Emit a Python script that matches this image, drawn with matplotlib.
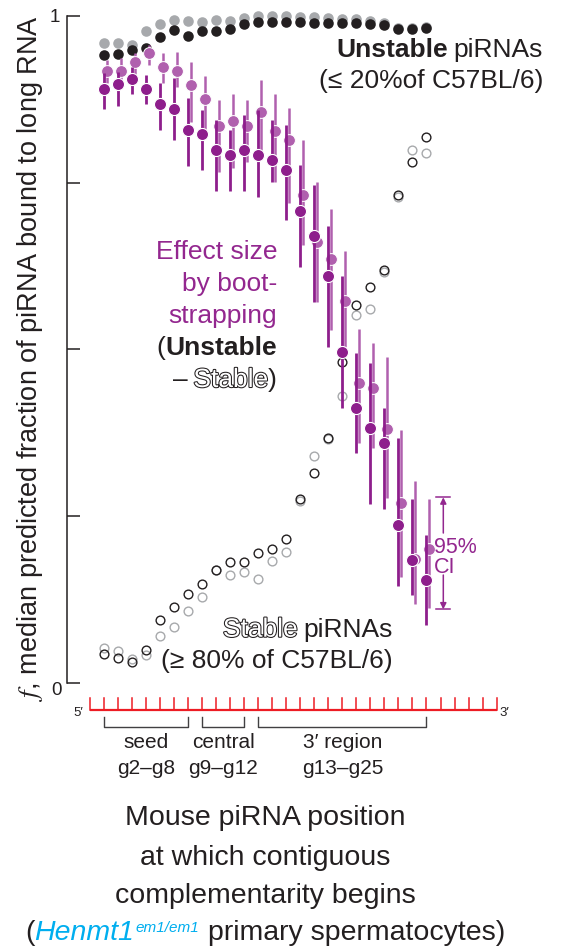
import matplotlib

matplotlib.use("Agg")
import matplotlib.pyplot as plt
import matplotlib.patheffects as pe

plt.rcParams["font.family"] = ["Liberation Sans", "DejaVu Sans"]
plt.rcParams["mathtext.fontset"] = "stix"

W, H = 585, 946
INK = "#231f20"
GREY = "#a7a9ac"
DARK_PURPLE = "#8e1e8c"
LIGHT_PURPLE = "#b060ae"
TEXT_PURPLE = "#93278f"
RED = "#ed1c24"
CYAN = "#00aeef"

# piRNA position (g2..g25) at which contiguous complementarity begins
positions = list(range(2, 26))

unstable_black = [0.941, 0.943, 0.949, 0.952, 0.969, 0.979, 0.970, 0.978, 0.978, 0.980, 0.988, 0.991,
                  0.991, 0.991, 0.991, 0.990, 0.990, 0.989, 0.989, 0.988, 0.987, 0.980, 0.980, 0.982]
unstable_grey = [0.959, 0.959, 0.956, 0.977, 0.988, 0.994, 0.993, 0.991, 0.994, 0.993, 0.997, 1.000,
                 1.000, 1.000, 0.999, 0.999, 0.997, 0.996, 0.995, 0.993, 0.990, 0.982, 0.982, 0.983]

stable_black = [0.043, 0.037, 0.031, 0.049, 0.094, 0.113, 0.133, 0.148, 0.169, 0.181, 0.181, 0.194,
                0.200, 0.216, 0.276, 0.314, 0.367, 0.481, 0.567, 0.594, 0.619, 0.731, 0.781, 0.818]
stable_grey = [0.052, 0.048, 0.035, 0.042, 0.070, 0.084, 0.108, 0.128, 0.169, 0.162, 0.166, 0.156,
               0.183, 0.196, 0.273, 0.340, 0.365, 0.430, 0.551, 0.560, 0.616, 0.728, 0.799, 0.794]

# effect size by bootstrapping (median and 95% CI)
effect_dark = [0.890, 0.898, 0.906, 0.890, 0.868, 0.861, 0.829, 0.823, 0.799, 0.791, 0.799, 0.791,
               0.784, 0.769, 0.708, 0.670, 0.610, 0.496, 0.412, 0.382, 0.359, 0.237, 0.184, 0.154]
effect_dark_hi = [0.914, 0.916, 0.924, 0.911, 0.899, 0.907, 0.877, 0.859, 0.844, 0.829, 0.851, 0.859,
                  0.844, 0.837, 0.777, 0.747, 0.685, 0.610, 0.495, 0.479, 0.412, 0.367, 0.275, 0.222]
effect_dark_lo = [0.860, 0.865, 0.883, 0.868, 0.829, 0.814, 0.775, 0.769, 0.738, 0.738, 0.738, 0.729,
                  0.751, 0.694, 0.624, 0.571, 0.504, 0.412, 0.344, 0.268, 0.260, 0.145, 0.132, 0.087]

effect_light = [0.918, 0.918, 0.931, 0.945, 0.924, 0.918, 0.897, 0.876, 0.835, 0.842, 0.835, 0.856,
                0.828, 0.814, 0.732, 0.661, 0.635, 0.573, 0.449, 0.442, 0.380, 0.269, 0.186, 0.201]
effect_light_hi = [0.934, 0.937, 0.944, 0.957, 0.944, 0.946, 0.931, 0.910, 0.874, 0.883, 0.874, 0.904,
                   0.883, 0.862, 0.814, 0.751, 0.710, 0.648, 0.530, 0.510, 0.489, 0.379, 0.303, 0.275]
effect_light_lo = [0.899, 0.899, 0.909, 0.927, 0.899, 0.894, 0.841, 0.829, 0.766, 0.772, 0.781, 0.796,
                   0.751, 0.719, 0.657, 0.571, 0.529, 0.504, 0.359, 0.352, 0.277, 0.159, 0.118, 0.112]

ruler_positions = list(range(1, 31))
region_names = ["seed", "central", "3\u2032 region"]
region_ranges = ["g2\u2013g8", "g9\u2013g12", "g13\u2013g25"]
region_start = [2, 9, 13]
region_end = [8, 12, 25]


def fxy(x, y):
    return x / W, 1 - y / H


fig = plt.figure(figsize=(W / 100, H / 100), dpi=100)
ax = fig.add_axes([67 / W, 1 - 682.7 / H, 443 / W, 666.7 / H])
ax.set_xlim(-0.64, 30.957)
ax.set_ylim(0, 1)

for side in ["top", "right", "bottom"]:
    ax.spines[side].set_visible(False)
ax.spines["left"].set_linewidth(1.1)
ax.spines["left"].set_color(INK)
ax.set_xticks([])
ax.set_yticks([0, 0.25, 0.5, 0.75, 1])
ax.set_yticklabels([])
ax.tick_params(axis="y", direction="in", length=9.5, width=1.1, color=INK)

# ----- unstable / stable medians -----
ax.plot(positions, unstable_grey, "o", ms=7.6, color=GREY, mec="none", clip_on=False, zorder=2)
ax.plot(positions, unstable_black, "o", ms=7.6, color=INK, mec="none", clip_on=False, zorder=2)
ax.plot(positions, stable_grey, "o", ms=6.3, mfc="white", mec=GREY, mew=1.0, clip_on=False, zorder=2)
ax.plot(positions, stable_black, "o", ms=6.3, mfc="none", mec=INK, mew=1.0, clip_on=False, zorder=2)

# ----- bootstrapped effect sizes -----
light_x = [p + 0.19 for p in positions]
ax.errorbar(light_x, effect_light,
            yerr=[[m - lo for m, lo in zip(effect_light, effect_light_lo)],
                  [hi - m for m, hi in zip(effect_light, effect_light_hi)]],
            fmt="o", ms=8.5, color=LIGHT_PURPLE, mec="white", mew=0.7, elinewidth=1.8,
            capsize=0, clip_on=False, zorder=3)
ax.errorbar(positions, effect_dark,
            yerr=[[m - lo for m, lo in zip(effect_dark, effect_dark_lo)],
                  [hi - m for m, hi in zip(effect_dark, effect_dark_hi)]],
            fmt="o", ms=8.7, color=DARK_PURPLE, mec="white", mew=0.8, elinewidth=2.0,
            capsize=0, clip_on=False, zorder=4)

# ----- 95% CI key -----
ci_x = 26.2
ci_top, ci_bot = 0.278, 0.110
for yy in (ci_top, ci_bot):
    ax.plot([ci_x - 0.5, ci_x + 0.5], [yy, yy], color=TEXT_PURPLE, lw=1.1, clip_on=False)
ax.annotate("", xy=(ci_x, ci_top), xytext=(ci_x, 0.2245),
            arrowprops=dict(arrowstyle="-|>", color=TEXT_PURPLE, lw=1.1, mutation_scale=9,
                            shrinkA=0, shrinkB=0), annotation_clip=False)
ax.annotate("", xy=(ci_x, ci_bot), xytext=(ci_x, 0.1615),
            arrowprops=dict(arrowstyle="-|>", color=TEXT_PURPLE, lw=1.1, mutation_scale=9,
                            shrinkA=0, shrinkB=0), annotation_clip=False)
fig.text(*fxy(434, 537), "95%\nCI", fontsize=15.5, color=TEXT_PURPLE, va="top", ha="left",
         linespacing=0.93)

# ----- red piRNA ruler -----
ruler_y, ruler_tick = -0.041, -0.0234
ax.plot([ruler_positions[0], ruler_positions[-1]], [ruler_y, ruler_y], color=RED, lw=1.6,
        clip_on=False, solid_capstyle="butt")
for p in ruler_positions:
    ax.plot([p, p], [ruler_y, ruler_tick], color=RED, lw=1.1, clip_on=False)
fig.text(*fxy(83, 716), "5\u2032", fontsize=9.5, color=INK, ha="right", va="baseline")
fig.text(*fxy(499, 716), "3\u2032", fontsize=9.5, color=INK, ha="left", va="baseline")

brace_y, brace_tick = -0.0669, -0.0519
for name, rng, a, b in zip(region_names, region_ranges, region_start, region_end):
    ax.plot([a, a, b, b], [brace_tick, brace_y, brace_y, brace_tick], color="#414042", lw=1.0,
            clip_on=False)
    xc = 90 + ((a + b) / 2 - 1) * 14.02
    fig.text(*fxy(xc, 748), name, fontsize=15, color=INK, ha="center", va="baseline")
    fig.text(*fxy(xc, 774), rng, fontsize=15, color=INK, ha="center", va="baseline")

# ----- axis labels -----
fig.text(*fxy(55, 17), "1", fontsize=13.5, color=INK, ha="center", va="center")
fig.text(*fxy(56, 690), "0", fontsize=13.5, color=INK, ha="center", va="center")
fig.text(*fxy(30, 358), "$f$, median predicted fraction of piRNA bound to long RNA",
         fontsize=19.5, color=INK, rotation=90, ha="center", va="center")

renderer = fig.canvas.get_renderer()


def text_line(x, y, pieces, ha="left", size=19):
    made = []
    total = 0.0
    for p in pieces:
        p = dict(p)
        s = p.pop("s")
        gap = p.pop("gap", 0)
        dy = p.pop("dy", 0)
        p.setdefault("fontsize", size)
        p.setdefault("color", INK)
        t = fig.text(0, 0, s, va="baseline", ha="left", **p)
        w = t.get_window_extent(renderer).width
        made.append((t, total + gap, dy))
        total += gap + w
    start = {"left": x, "center": x - total / 2, "right": x - total}[ha]
    for t, off, dy in made:
        t.set_position(fxy(start + off, y - dy))


outline = [pe.withStroke(linewidth=1.5, foreground=INK)]

text_line(543, 56.7, [dict(s="Unstable", weight="bold"), dict(s="piRNAs", gap=6)], ha="right")
text_line(543, 88.3, [dict(s="(\u2264 20%of C57BL/6)")], ha="right")

text_line(277, 259, [dict(s="Effect size", color=TEXT_PURPLE)], ha="right")
text_line(277, 291, [dict(s="by boot-", color=TEXT_PURPLE)], ha="right")
text_line(277, 323, [dict(s="strapping", color=TEXT_PURPLE)], ha="right")
text_line(277, 355, [dict(s="("), dict(s="Unstable", weight="bold")], ha="right")
text_line(277, 387, [dict(s="\u2013"), dict(s="Stable", color="white", path_effects=outline, gap=6),
                     dict(s=")")], ha="right")

text_line(393, 636.7, [dict(s="Stable", color="white", path_effects=outline),
                       dict(s="piRNAs", gap=6)], ha="right")
text_line(393, 668.3, [dict(s="(\u2265 80% of C57BL/6)")], ha="right")

# ----- x-axis title -----
for yy, s in zip([825, 865, 903], ["Mouse piRNA position", "at which contiguous",
                                   "complementarity begins"]):
    fig.text(*fxy(265, yy), s, fontsize=20.5, color=INK, ha="center", va="baseline")
text_line(265, 940, [dict(s="("),
                     dict(s="Henmt1", style="italic", color=CYAN),
                     dict(s="em1/em1", style="italic", color=CYAN, fontsize=11, dy=8, gap=1),
                     dict(s="primary spermatocytes)", gap=9)], ha="center", size=20.5)

fig.savefig("out.png", dpi=100)
